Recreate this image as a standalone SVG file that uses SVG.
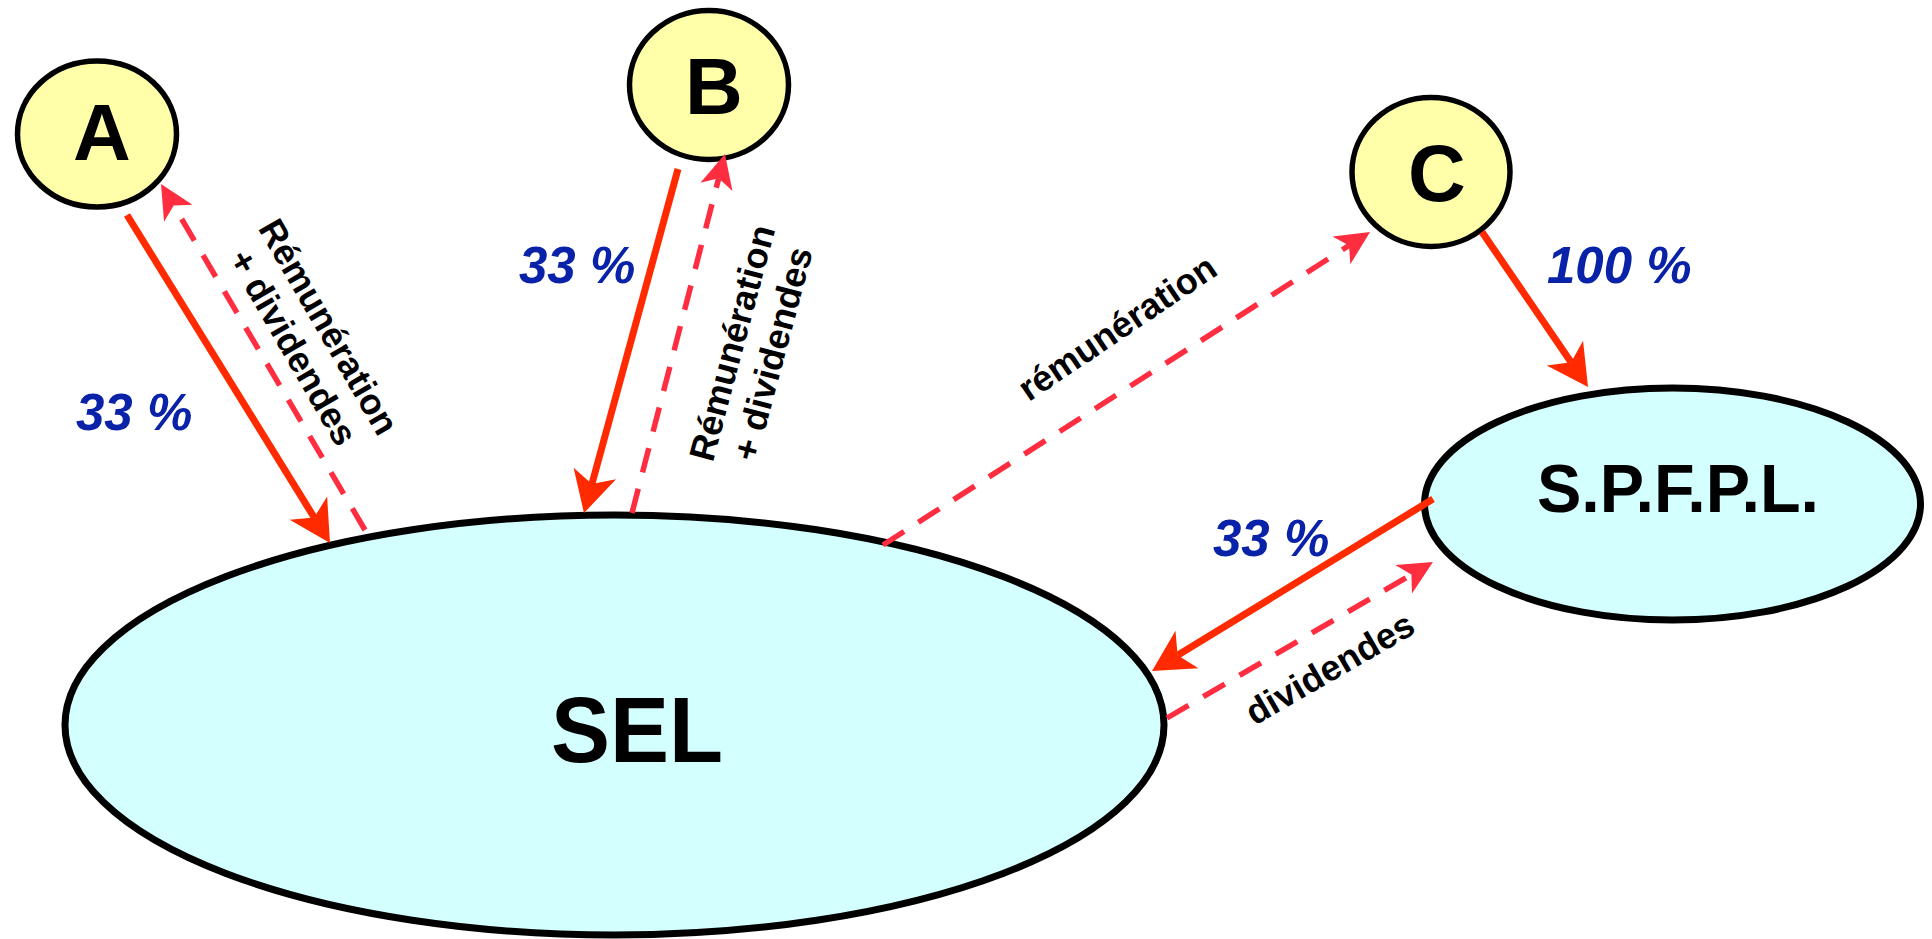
<svg xmlns="http://www.w3.org/2000/svg" width="1932" height="939" viewBox="0 0 1932 939">
<style>
.person{fill:#ffffaa;stroke:#000;stroke-width:5.5}
.company{fill:#d4ffff;stroke:#000;stroke-width:7}
.nodeText{font-family:"Liberation Sans",Arial,sans-serif;font-weight:bold;fill:#000;text-anchor:middle}
.solid{fill:none;stroke:#ff2a00;stroke-width:7;marker-end:url(#headSolid)}
.dashed{fill:none;stroke:#ff2d40;stroke-width:5.5;stroke-dasharray:25 17;marker-end:url(#headDashed)}
.pct{font-family:"Liberation Sans",Arial,sans-serif;font-weight:bold;font-style:italic;font-size:51px;fill:#0a22a8}
.lbl{font-family:"Liberation Sans",Arial,sans-serif;font-weight:bold;font-size:36px;fill:#000;text-anchor:middle}
</style>
<defs>
<marker id="headSolid" markerUnits="userSpaceOnUse" markerWidth="60" markerHeight="60" refX="0" refY="0" orient="auto" overflow="visible">
<path d="M30,0 L-11,-22 L0,0 L-11,22 Z" fill="#ff2a00"/>
</marker>
<marker id="headDashed" markerUnits="userSpaceOnUse" markerWidth="50" markerHeight="50" refX="0" refY="0" orient="auto" overflow="visible">
<path d="M25,0 L-9,-16.5 L0,0 L-9,16.5 Z" fill="#ff2d40"/>
</marker>
</defs>
<rect width="1932" height="939" fill="#fff"/>
<g id="SEL">
<ellipse class="company" cx="614.5" cy="725" rx="549.5" ry="210"/>
<text class="nodeText" x="637" y="762" font-size="93" textLength="172" lengthAdjust="spacingAndGlyphs">SEL</text>
</g>
<g id="SPFPL">
<ellipse class="company" cx="1672.5" cy="504" rx="248" ry="116"/>
<text class="nodeText" x="1678" y="512" font-size="68" textLength="282" lengthAdjust="spacingAndGlyphs">S.P.F.P.L.</text>
</g>
<g id="A">
<ellipse class="person" cx="97" cy="134" rx="79.5" ry="73"/>
<text class="nodeText" x="102" y="160" font-size="80">A</text>
</g>
<g id="B">
<ellipse class="person" cx="709" cy="85" rx="79.5" ry="74.5"/>
<text class="nodeText" x="714" y="114" font-size="80">B</text>
</g>
<g id="C">
<ellipse class="person" cx="1431" cy="172" rx="79" ry="74.5"/>
<text class="nodeText" x="1437" y="201" font-size="80">C</text>
</g>
<g id="connectors">
<path class="solid" d="M127,215 L314.2,517.5"/>
<path class="dashed" d="M365,530 L173.7,205.5"/>
<path class="solid" d="M678,169 L591.9,484.1"/>
<path class="dashed" d="M632,513 L718.7,178.2"/>
<path class="dashed" d="M883,545 L1349,245.5"/>
<path class="solid" d="M1482,232 L1571.1,362.2"/>
<path class="solid" d="M1433,499 L1177.6,655.3"/>
<path class="dashed" d="M1167,718 L1411.4,574.6"/>
</g>
<g id="labels">
<text class="pct" x="76" y="430">33 %</text>
<text class="pct" x="519" y="283">33 %</text>
<text class="pct" x="1213" y="556">33 %</text>
<text class="pct" x="1547" y="283">100 %</text>
<text class="lbl" transform="translate(318,333) rotate(60)"><tspan x="0" y="0">Rémunération</tspan><tspan x="0" y="41">+ dividendes</tspan></text>
<text class="lbl" transform="translate(744,346) rotate(-75)"><tspan x="0" y="0">Rémunération</tspan><tspan x="0" y="42">+ dividendes</tspan></text>
<text class="lbl" transform="translate(1124,338) rotate(-34)">rémunération</text>
<text class="lbl" transform="translate(1336,679) rotate(-30)">dividendes</text>
</g>
</svg>
